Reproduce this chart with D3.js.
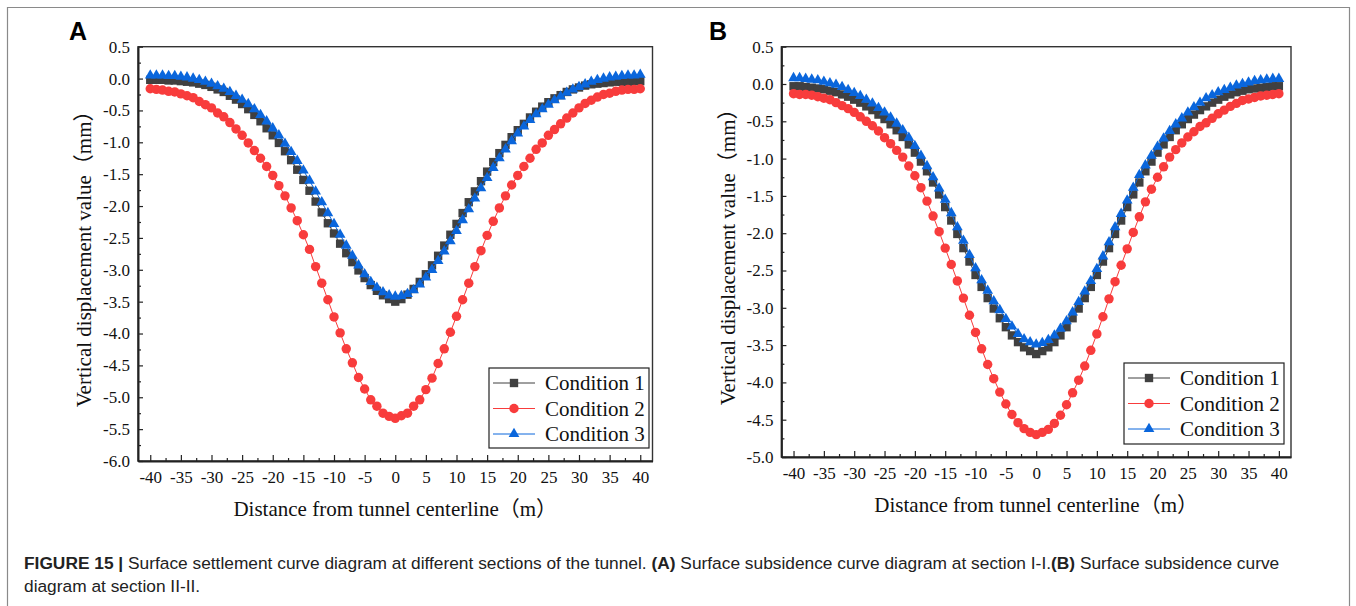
<!DOCTYPE html>
<html>
<head>
<meta charset="utf-8">
<script src="https://cdn.jsdelivr.net/npm/d3@7"></script>
<style>
  html, body { margin: 0; padding: 0; background: #fff; }
  svg { display: block; }
</style>
</head>
<body>
<svg id="chart" width="1356" height="606"></svg>
<script>
// distance from tunnel centerline (m)
const distance = [-40,-39,-38,-37,-36,-35,-34,-33,-32,-31,-30,-29,-28,-27,-26,-25,-24,-23,-22,-21,
    -20,-19,-18,-17,-16,-15,-14,-13,-12,-11,-10,-9,-8,-7,-6,-5,-4,-3,-2,-1,0,
    1,2,3,4,5,6,7,8,9,10,11,12,13,14,15,16,17,18,19,20,21,22,23,24,25,26,27,28,29,30,
    31,32,33,34,35,36,37,38,39,40];
const xTicks = [-40,-35,-30,-25,-20,-15,-10,-5,0,5,10,15,20,25,30,35,40];
const xMinorTicks = [-37.5,-32.5,-27.5,-22.5,-17.5,-12.5,-7.5,-2.5,2.5,7.5,12.5,17.5,22.5,27.5,32.5,37.5];
const yTicksA = [0.5,0,-0.5,-1,-1.5,-2,-2.5,-3,-3.5,-4,-4.5,-5,-5.5,-6];
const yTicksB = [0.5,0,-0.5,-1,-1.5,-2,-2.5,-3,-3.5,-4,-4.5,-5];
const seriesNames = ["Condition 1", "Condition 2", "Condition 3"];

// section I-I (panel A), vertical displacement (mm)
const sectionA_cond1 = [-0.02,-0.02,-0.02,-0.03,-0.03,-0.04,-0.05,-0.06,-0.08,-0.10,
    -0.13,-0.17,-0.21,-0.27,-0.33,-0.40,-0.48,-0.57,-0.67,-0.78,
    -0.89,-1.01,-1.14,-1.28,-1.43,-1.59,-1.76,-1.93,-2.10,-2.27,
    -2.43,-2.59,-2.74,-2.88,-3.01,-3.13,-3.24,-3.33,-3.40,-3.46,
    -3.50,
    -3.46,-3.39,-3.30,-3.19,-3.07,-2.93,-2.78,-2.62,-2.45,-2.28,
    -2.11,-1.94,-1.77,-1.61,-1.46,-1.31,-1.17,-1.04,-0.92,-0.81,
    -0.71,-0.61,-0.52,-0.44,-0.37,-0.31,-0.26,-0.21,-0.17,-0.14,
    -0.11,-0.09,-0.08,-0.07,-0.06,-0.05,-0.05,-0.05,-0.04,-0.04];
const sectionA_cond2 = [-0.16,-0.17,-0.18,-0.20,-0.21,-0.24,-0.27,-0.30,-0.36,-0.41,
    -0.46,-0.54,-0.60,-0.69,-0.79,-0.89,-1.01,-1.13,-1.25,-1.38,
    -1.52,-1.68,-1.84,-2.03,-2.23,-2.45,-2.68,-2.95,-3.21,-3.47,
    -3.74,-3.99,-4.24,-4.46,-4.69,-4.87,-5.04,-5.14,-5.25,-5.30,
    -5.33,
    -5.29,-5.25,-5.14,-5.04,-4.88,-4.70,-4.47,-4.24,-3.98,-3.73,
    -3.47,-3.21,-2.95,-2.70,-2.46,-2.24,-2.03,-1.84,-1.67,-1.52,
    -1.38,-1.25,-1.11,-1.01,-0.89,-0.80,-0.71,-0.62,-0.54,-0.46,
    -0.39,-0.34,-0.29,-0.25,-0.23,-0.20,-0.18,-0.17,-0.17,-0.16];
const sectionA_cond3 = [0.05,0.05,0.05,0.04,0.04,0.03,0.02,0.00,-0.02,-0.05,
    -0.08,-0.12,-0.16,-0.21,-0.27,-0.33,-0.40,-0.48,-0.57,-0.67,
    -0.78,-0.89,-1.02,-1.15,-1.29,-1.44,-1.60,-1.77,-1.94,-2.11,
    -2.28,-2.45,-2.62,-2.78,-2.93,-3.07,-3.19,-3.28,-3.35,-3.40,
    -3.42,
    -3.41,-3.38,-3.32,-3.23,-3.12,-3.00,-2.86,-2.71,-2.55,-2.39,
    -2.22,-2.05,-1.88,-1.72,-1.56,-1.40,-1.25,-1.11,-0.98,-0.86,
    -0.75,-0.65,-0.56,-0.48,-0.41,-0.34,-0.28,-0.22,-0.17,-0.13,
    -0.09,-0.05,-0.02,0.00,0.02,0.03,0.04,0.05,0.05,0.06];

// section II-II (panel B)
const sectionB_cond1 = [-0.03,-0.03,-0.04,-0.05,-0.06,-0.07,-0.09,-0.11,-0.14,-0.17,
    -0.21,-0.25,-0.30,-0.35,-0.41,-0.47,-0.54,-0.62,-0.71,-0.81,
    -0.92,-1.04,-1.17,-1.32,-1.48,-1.65,-1.83,-2.01,-2.20,-2.38,
    -2.56,-2.72,-2.87,-3.01,-3.14,-3.26,-3.37,-3.46,-3.53,-3.58,
    -3.62,
    -3.58,-3.53,-3.46,-3.37,-3.26,-3.14,-3.01,-2.87,-2.72,-2.56,
    -2.38,-2.20,-2.01,-1.83,-1.65,-1.48,-1.32,-1.17,-1.04,-0.92,
    -0.81,-0.71,-0.62,-0.54,-0.47,-0.41,-0.35,-0.30,-0.25,-0.21,
    -0.17,-0.14,-0.11,-0.09,-0.07,-0.06,-0.05,-0.04,-0.03,-0.03];
const sectionB_cond2 = [-0.13,-0.14,-0.14,-0.15,-0.17,-0.19,-0.21,-0.25,-0.29,-0.33,
    -0.38,-0.44,-0.50,-0.56,-0.63,-0.72,-0.80,-0.89,-0.98,-1.10,
    -1.23,-1.39,-1.57,-1.77,-1.98,-2.20,-2.42,-2.64,-2.87,-3.10,
    -3.33,-3.55,-3.76,-3.95,-4.13,-4.29,-4.43,-4.54,-4.62,-4.67,
    -4.70,
    -4.67,-4.63,-4.55,-4.44,-4.30,-4.14,-3.97,-3.78,-3.57,-3.35,
    -3.12,-2.88,-2.65,-2.43,-2.21,-1.99,-1.78,-1.58,-1.41,-1.25,
    -1.11,-0.98,-0.88,-0.79,-0.71,-0.64,-0.57,-0.52,-0.46,-0.40,
    -0.35,-0.30,-0.26,-0.22,-0.20,-0.18,-0.16,-0.15,-0.14,-0.13];
const sectionB_cond3 = [0.08,0.08,0.07,0.06,0.05,0.03,0.01,-0.01,-0.04,-0.08,
    -0.12,-0.16,-0.21,-0.26,-0.32,-0.38,-0.45,-0.53,-0.62,-0.72,
    -0.83,-0.96,-1.10,-1.25,-1.40,-1.55,-1.73,-1.92,-2.10,-2.29,
    -2.47,-2.63,-2.77,-2.91,-3.03,-3.15,-3.25,-3.35,-3.42,-3.46,
    -3.49,
    -3.47,-3.43,-3.37,-3.28,-3.18,-3.06,-2.92,-2.78,-2.64,-2.48,
    -2.31,-2.12,-1.92,-1.74,-1.56,-1.39,-1.22,-1.09,-0.96,-0.84,
    -0.73,-0.63,-0.54,-0.46,-0.38,-0.31,-0.25,-0.19,-0.15,-0.11,
    -0.08,-0.05,-0.02,0.00,0.02,0.04,0.05,0.06,0.07,0.07];

const colors = ["#404040", "#f83c3c", "#0a66dc"];
const symbols = [
    d3.symbol().type(d3.symbolSquare).size(70),
    d3.symbol().type(d3.symbolCircle).size(70),
    d3.symbol().type(d3.symbolTriangle).size(50)
];
const serif = "'Liberation Serif','Times New Roman','Noto Sans CJK SC',serif";

const svg = d3.select("#chart");

// outer frame of the figure
svg.append("path")
    .attr("d", "M 7.5 606 L 7.5 7.5 L 1349.5 7.5 L 1349.5 606")
    .attr("fill", "none")
    .attr("stroke", "#8a8a8a")
    .attr("stroke-width", 1.2);

function drawPanel(p) {
    const x = d3.scaleLinear().domain([-42, 42]).range([p.left, p.right]);
    const y = d3.scaleLinear().domain(p.yDomain).range([p.bottom, p.top]);
    const g = svg.append("g");

    // panel letter
    g.append("text")
        .attr("x", p.letterX).attr("y", 40)
        .attr("font-family", "'Liberation Sans',Arial,sans-serif")
        .attr("font-weight", "bold")
        .attr("font-size", 25)
        .text(p.letter);

    // frame of the plot
    g.append("rect")
        .attr("x", p.left).attr("y", p.top)
        .attr("width", p.right - p.left).attr("height", p.bottom - p.top)
        .attr("fill", "none").attr("stroke", "#333").attr("stroke-width", 1.4);

    // axes
    const xAxis = g.append("g")
        .attr("transform", `translate(0,${p.bottom})`)
        .call(d3.axisBottom(x).tickValues(xTicks).tickSize(-6).tickSizeOuter(0).tickPadding(10)
            .tickFormat(d => String(d)));
    g.append("g")
        .attr("transform", `translate(0,${p.bottom})`)
        .call(d3.axisBottom(x).tickValues(xMinorTicks).tickSize(-3).tickSizeOuter(0).tickFormat(""))
        .call(a => a.select(".domain").remove());

    const yAxis = g.append("g")
        .attr("transform", `translate(${p.left},0)`)
        .call(d3.axisLeft(y).tickValues(p.yTicks).tickSize(-5).tickSizeOuter(0).tickPadding(8)
            .tickFormat(d => d.toFixed(1)));
    const yMinor = [];
    for (let i = 0; i < p.yTicks.length - 1; i++) yMinor.push((p.yTicks[i] + p.yTicks[i + 1]) / 2);
    g.append("g")
        .attr("transform", `translate(${p.left},0)`)
        .call(d3.axisLeft(y).tickValues(yMinor).tickSize(-3).tickSizeOuter(0).tickFormat(""))
        .call(a => a.select(".domain").remove());

    g.selectAll(".tick line").attr("stroke", "#222").attr("stroke-width", 1.2);
    [xAxis, yAxis].forEach(a => {
        a.select(".domain").attr("stroke", "#222").attr("stroke-width", 2);
        a.selectAll("text")
            .attr("font-family", serif)
            .attr("font-size", 17)
            .attr("fill", "#111");
    });

    // axis titles
    g.append("text")
        .attr("x", (p.left + p.right) / 2).attr("y", p.xTitleY)
        .attr("text-anchor", "middle")
        .attr("font-family", serif).attr("font-size", 21).attr("fill", "#111")
        .text("Distance from tunnel centerline（m）");
    g.append("text")
        .attr("transform", `translate(${p.yTitleX},${(p.top + p.bottom) / 2}) rotate(-90)`)
        .attr("text-anchor", "middle")
        .attr("font-family", serif).attr("font-size", 21).attr("fill", "#111")
        .text("Vertical displacement value（mm）");

    // series
    const line = d3.line().x((d, i) => x(distance[i])).y(d => y(d));
    p.series.forEach((s, k) => {
        const sg = g.append("g");
        sg.append("path")
            .attr("d", line(s))
            .attr("fill", "none")
            .attr("stroke", colors[k])
            .attr("stroke-width", 1);
        sg.selectAll("path.mark")
            .data(s)
            .enter()
            .append("path")
            .attr("class", "mark")
            .attr("d", symbols[k])
            .attr("transform", (d, i) => `translate(${x(distance[i])},${y(d)})`)
            .attr("fill", colors[k]);
    });

    // legend
    const lg = g.append("g");
    lg.append("rect")
        .attr("x", p.legend.x).attr("y", p.legend.y)
        .attr("width", p.legend.w).attr("height", p.legend.h)
        .attr("fill", "#fff").attr("stroke", "#222").attr("stroke-width", 1.2);
    seriesNames.forEach((name, k) => {
        const cy = p.legend.y + 15 + k * 25.5;
        const x0 = p.legend.x + 4;
        lg.append("line")
            .attr("x1", x0).attr("x2", x0 + 42)
            .attr("y1", cy).attr("y2", cy)
            .attr("stroke", colors[k]).attr("stroke-width", 1);
        lg.append("path")
            .attr("d", symbols[k])
            .attr("transform", `translate(${x0 + 21},${cy})`)
            .attr("fill", colors[k]);
        lg.append("text")
            .attr("x", x0 + 52).attr("y", cy).attr("dy", "0.35em")
            .attr("font-family", serif).attr("font-size", 21).attr("fill", "#111")
            .text(name);
    });
}

drawPanel({
    letter: "A", letterX: 69,
    left: 138, right: 652.5, top: 46.7, bottom: 461,
    yDomain: [-6, 0.5], yTicks: yTicksA,
    xTitleY: 516, yTitleX: 91,
    legend: { x: 489, y: 368, w: 160, h: 80 },
    series: [sectionA_cond1, sectionA_cond2, sectionA_cond3]
});
drawPanel({
    letter: "B", letterX: 709,
    left: 781.4, right: 1291, top: 46.7, bottom: 457,
    yDomain: [-5, 0.5], yTicks: yTicksB,
    xTitleY: 512, yTitleX: 735,
    legend: { x: 1124, y: 363, w: 160, h: 81 },
    series: [sectionB_cond1, sectionB_cond2, sectionB_cond3]
});

// caption
const cap = svg.append("g");
const cap1 = cap.append("text")
    .attr("x", 0).attr("y", 0)
    .attr("font-family", "'Liberation Sans',Arial,sans-serif")
    .attr("font-size", 17).attr("fill", "#222");
const parts = [
    ["FIGURE 15 | ", true],
    ["Surface settlement curve diagram at different sections of the tunnel. ", false],
    ["(A)", true],
    [" Surface subsidence curve diagram at section I-I.", false],
    ["(B)", true],
    [" Surface subsidence curve", false]
];
parts.forEach(([t, b]) => {
    cap1.append("tspan").attr("font-weight", b ? "bold" : "normal").text(t);
});
cap.append("text")
    .attr("x", 0).attr("y", 23)
    .attr("font-family", "'Liberation Sans',Arial,sans-serif")
    .attr("font-size", 17).attr("fill", "#222")
    .text("diagram at section II-II.");
const capW = cap1.node().getComputedTextLength();
cap.attr("transform", `translate(24,569) scale(${1256 / capW},1)`);
</script>
</body>
</html>
